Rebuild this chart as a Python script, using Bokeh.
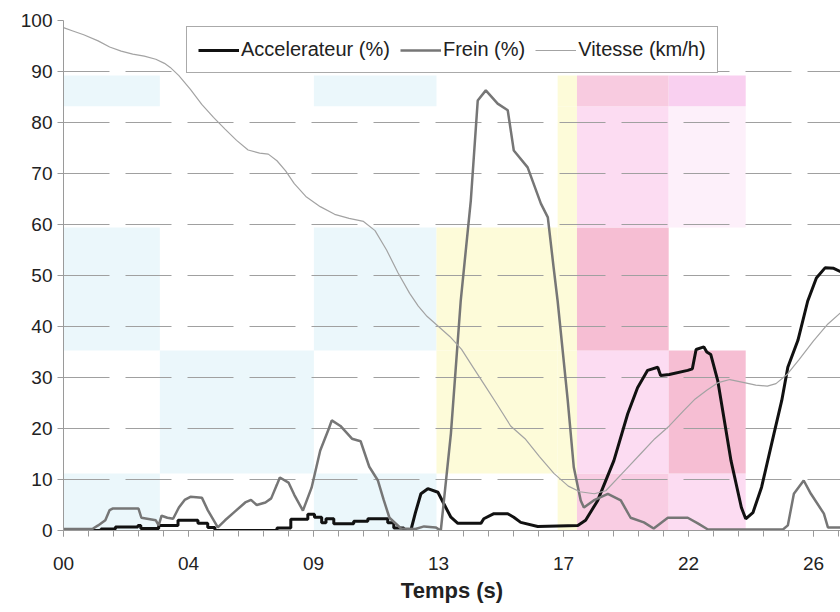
from bokeh.plotting import figure
from bokeh.models import Range1d, FixedTicker, Legend, LegendItem
from bokeh.embed import file_html
from bokeh.resources import INLINE

# ---------------- data ----------------
tick_labels = ["00", "04", "09", "13", "17", "22", "26"]
major_step = 26 / 6          # seconds between labelled ticks
minor_step = 26 / 30         # seconds between minor ticks

accel_t = [0, 1.3, 1.3, 1.8, 1.8, 2.58, 2.58, 2.68, 2.68, 3.3, 3.3, 3.97, 3.97, 4.66, 4.66,
           5.0, 5.0, 5.25, 5.25, 7.4, 7.4, 7.88, 7.88, 8.47, 8.47, 8.7, 8.7, 8.95, 8.95,
           9.1, 9.1, 9.37, 9.37, 10.06, 10.06, 10.55, 10.55, 11.24, 11.24, 11.45, 11.45,
           11.8, 11.8, 12.04,
           12.2, 12.39, 12.63, 12.98, 13.18, 13.43, 13.67, 14.47, 14.57, 14.92, 15.4, 15.61,
           15.85, 16.44, 17.83, 18.1, 18.52, 19.08, 19.56, 19.9, 20.25, 20.6, 20.7, 21.0,
           21.64, 21.8, 21.93, 22.2, 22.3, 22.44, 22.68, 23.14, 23.5, 23.65, 23.9, 24.2,
           24.63, 24.9, 25.11, 25.46, 25.8, 26.1, 26.4, 26.7, 27.0]
accel_v = [0, 0, 0.3, 0.3, 0.7, 0.7, 1.0, 1.0, 0.4, 0.4, 1.0, 1.0, 2.0, 2.0, 1.4,
           1.4, 0.6, 0.6, 0, 0, 0.5, 0.5, 2.2, 2.2, 3.2, 3.2, 2.6, 2.6, 1.5,
           1.5, 2.3, 2.3, 1.3, 1.3, 1.8, 1.8, 2.3, 2.3, 1.5, 1.5, 0.5,
           0.5, 0, 0,
           3.5, 7.2, 8.2, 7.5, 5.3, 2.6, 1.4, 1.4, 2.3, 3.3, 3.3, 2.6,
           1.6, 0.8, 1.0, 2.0, 5.9, 13.7, 22.9, 28.0, 31.4, 32.0, 30.4, 30.6,
           31.4, 31.7, 35.5, 36.0, 35.0, 34.5, 29.4, 13.7, 4.5, 2.3, 3.5, 8.5,
           19.0, 25.5, 32.0, 37.3, 45.0, 49.5, 51.5, 51.4, 50.6]

frein_t = [0, 1.0, 1.2, 1.45, 1.6, 1.7, 2.6, 2.7, 3.2, 3.3, 3.4, 3.6, 3.8, 4.0, 4.2, 4.4,
           4.8, 5.0, 5.35, 5.6, 5.9, 6.3, 6.5, 6.7, 7.0, 7.2, 7.4, 7.5, 7.8, 8.0, 8.3,
           8.6, 8.9, 9.2, 9.3, 9.6, 10.0, 10.3, 10.6, 10.9, 11.1, 11.3, 11.7, 12.2, 12.5,
           12.9, 13.08, 13.43, 13.77, 14.12, 14.36, 14.64, 15.05, 15.4, 15.61, 16.09,
           16.55, 16.79, 16.99, 17.13, 17.48, 17.69, 17.93, 18.04, 18.38, 18.87, 19.32,
           19.66, 20.12, 20.46, 20.95, 21.64, 21.99, 22.34, 24.94, 25.11, 25.32, 25.66,
           25.91, 26.36, 26.5, 27.0]
frein_v = [0.3, 0.3, 1.0, 2.0, 4.0, 4.3, 4.3, 2.5, 2.0, 1.0, 2.9, 2.5, 2.3, 4.5, 6.0, 6.6,
           6.4, 4.0, 0.6, 2.0, 3.5, 5.5, 6.0, 5.0, 5.5, 6.3, 9.0, 10.4, 9.4, 7.0, 3.9,
           8.4, 15.7, 20.0, 21.6, 20.5, 18.0, 17.5, 12.5, 9.8, 6.0, 2.5, 0.4, 0.3, 0.8,
           0.6, 0.0, 19.0, 45.0, 64.7, 84.3, 86.3, 83.7, 82.4, 74.5, 71.2,
           64.1, 61.4, 51.6, 45.0, 25.5, 12.4, 5.9, 4.5, 5.9, 7.2, 5.9,
           2.5, 1.6, 0.4, 2.5, 2.5, 1.4, 0.2, 0.2, 1.0, 7.2, 9.8,
           7.2, 3.3, 0.6, 0.6]

vit_t = [0.0, 0.3, 0.7, 1.2, 1.6, 2.0, 2.4, 2.8, 3.2, 3.5, 3.7, 4.0, 4.4, 4.8, 5.2, 5.6,
         6.0, 6.4, 6.8, 7.1, 7.4, 7.7, 8.0, 8.4, 8.9, 9.4, 9.9, 10.4, 10.8, 11.2, 11.6,
         12.0, 12.3, 12.6, 13.0, 13.4, 13.8, 14.2, 14.6, 15.0, 15.5, 16.0, 16.5, 17.0,
         17.5, 17.9, 18.4, 18.8, 19.5, 20.0, 20.5, 21.0, 21.5, 21.9, 22.3, 22.7, 23.1,
         23.6, 24.0, 24.4, 24.7, 25.1, 25.5, 26.0, 26.5, 27.0]
vit_v = [98.6, 98.0, 97.2, 96.0, 94.8, 94.0, 93.4, 93.0, 92.4, 91.6, 90.8, 89.2, 86.5, 83.5,
         81.0, 78.7, 76.5, 74.6, 74.0, 73.8, 72.5, 70.5, 68.0, 65.5, 63.5, 62.0, 61.2, 60.6,
         58.8, 55.0, 50.5, 46.5, 44.0, 42.0, 40.0, 38.0, 35.5, 32.0, 28.5, 25.0, 20.5,
         18.0, 14.5, 11.2, 8.7, 7.6, 7.2, 7.8, 12.0, 15.0, 18.0, 20.5, 23.5, 25.8, 27.5,
         29.0, 29.6, 29.0, 28.5, 28.3, 28.8, 30.7, 33.5, 37.2, 40.5, 43.0]

# background zones: time columns x value bands
col_edges = [0, 3.34, 8.68, 12.93, 17.13, 17.8, 20.98, 23.65]
band_edges = [0, 11.2, 35.3, 59.4, 83.2, 89.2]
# zone code per column (bottom band first): '' = none
zone_codes = [
    ["b", "", "b", "", "b"],
    ["", "b", "", "", ""],
    ["b", "", "b", "", "b"],
    ["", "y", "y", "", ""],
    ["y", "y", "y", "y", "y"],
    ["p3", "p1", "p4", "p1", "p2"],
    ["p1", "p4", "", "p0", "p5"],
]
zone_colors = {"b": "#ebf7fb", "y": "#fdfbd9", "p0": "#fdf0fa", "p1": "#fcdcf2",
               "p2": "#f8cbe0", "p3": "#f9cde3", "p4": "#f6bed3", "p5": "#f9d0f0"}

# ---------------- figure ----------------
p = figure(width=840, height=612, output_backend="svg", toolbar_location=None,
           x_range=Range1d(0, 777 / (125 / major_step)), y_range=Range1d(0, 100),
           min_border_left=63, min_border_right=0, min_border_top=20, min_border_bottom=82)
p.outline_line_color = None
p.background_fill_color = "white"
p.border_fill_color = "white"

zl, zr, zb, zt, zc = [], [], [], [], []
for ci, codes in enumerate(zone_codes):
    for bi, code in enumerate(codes):
        if code:
            zl.append(col_edges[ci]); zr.append(col_edges[ci + 1])
            zb.append(band_edges[bi]); zt.append(band_edges[bi + 1])
            zc.append(zone_colors[code])
p.quad(left=zl, right=zr, bottom=zb, top=zt, fill_color=zc, line_color=None, level="image")

r_acc = p.line(accel_t, accel_v, line_color="#111111", line_width=3)
r_fre = p.line(frein_t, frein_v, line_color="#767676", line_width=2.5)
r_vit = p.line(vit_t, vit_v, line_color="#a3a3a3", line_width=1.2)

FONT = "Liberation Sans"
majors = [i * major_step for i in range(len(tick_labels))]
minors = [i * minor_step for i in range(32)]
p.xaxis.ticker = FixedTicker(ticks=majors, minor_ticks=minors)
p.xaxis.major_label_overrides = {t: lab for t, lab in zip(majors, tick_labels)}
p.yaxis.ticker = FixedTicker(ticks=list(range(0, 101, 10)))

for ax in (p.xaxis[0], p.yaxis[0]):
    ax.axis_line_color = "#9a9a9a"
    ax.major_tick_line_color = "#9a9a9a"
    ax.minor_tick_line_color = "#9a9a9a"
    ax.major_tick_in = 0
    ax.major_tick_out = 6
    ax.minor_tick_in = 0
    ax.minor_tick_out = 6
    ax.major_label_text_font = FONT
    ax.major_label_text_font_size = "19px"
    ax.major_label_text_color = "#222222"
p.yaxis.minor_tick_line_color = None
p.yaxis.major_label_standoff = 5
p.xaxis.major_label_standoff = 20
p.xaxis.axis_label = "Temps (s)"
p.xaxis.axis_label_text_font = FONT
p.xaxis.axis_label_text_font_size = "22px"
p.xaxis.axis_label_text_font_style = "bold"
p.xaxis.axis_label_text_color = "#222222"
p.xaxis.axis_label_standoff = 5

p.xgrid.grid_line_color = None
p.ygrid.grid_line_color = "#a0a0a0"
p.ygrid.grid_line_width = 1
p.ygrid.grid_line_dash = "46 16"

legend = Legend(items=[LegendItem(label="Accelerateur (%)", renderers=[r_acc]),
                       LegendItem(label="Frein (%)", renderers=[r_fre]),
                       LegendItem(label="Vitesse (km/h)", renderers=[r_vit])],
                orientation="horizontal", location=(123, 457),
                label_text_font=FONT, label_text_font_size="20px", label_text_color="#222222",
                glyph_width=41, glyph_height=20, label_standoff=2, spacing=10,
                padding=11, margin=0, label_height=20,
                border_line_color="#555555", border_line_width=1,
                background_fill_color="white", background_fill_alpha=1)
p.add_layout(legend, "center")

open("out.html", "w").write(file_html(p, INLINE))
